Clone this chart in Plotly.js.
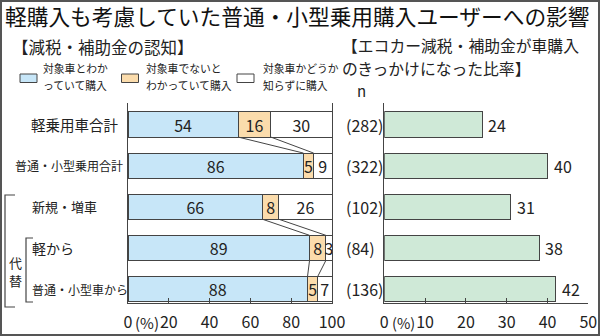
<!DOCTYPE html>
<html><head><meta charset="utf-8">
<script src="https://cdn.plot.ly/plotly-3.0.1.min.js"></script>
<style>html,body{margin:0;padding:0;background:#fff;}</style>
</head><body>
<div id="chart" style="width:600px;height:336px;"></div>
<script>
// ---- data ----
const categories = ['軽乗用車合計', '普通・小型乗用合計', '新規・増車', '軽から', '普通・小型車から'];
const knewTarget = [54, 86, 66, 89, 88];
const knewNotTarget = [16, 5, 8, 8, 5];
const didNotKnow = [30, 9, 26, 3, 7];
const ecoTrigger = [24, 40, 31, 38, 42];
const nCounts = ['(282)', '(322)', '(102)', '(84)', '(136)'];
const seriesLines = [['対象車とわか', 'っていて購入'], ['対象車でないと', 'わかっていて購入'], ['対象車かどうか', '知らずに購入']];
const leftTicks = [0, 20, 40, 60, 80, 100];
const rightTicks = [0, 10, 20, 30, 40, 50];
const linkPairs = [[0, 1], [2, 3], [3, 4]];
const titleText = '軽購入も考慮していた普通・小型乗用購入ユーザーへの影響';
const leftSub = '【減税・補助金の認知】';
const rightSub = ['【エコカー減税・補助金が車購入', 'のきっかけになった比率】'];
const groupLabel = ['代', '替'];

// ---- helpers ----
const W = 600, H = 336;
const X = p => p / W;
const Y = p => 1 - p / H;
const idx = categories.map((_, i) => i);
const FONT = 'Liberation Sans Narrow, Noto Sans CJK JP, sans-serif';
const JP = 'Noto Sans CJK JP, sans-serif';
const INK = '#222';
const EDGE = '#444';
const colors = ['#c7e6f8', '#fbdcac', '#ffffff'];
const green = '#cfe9d7';
const BW = 0.61;

const seriesVals = [knewTarget, knewNotTarget, didNotKnow];
const traces = seriesVals.map((vals, k) => ({
  type: 'bar', orientation: 'h', x: vals, y: idx, xaxis: 'x', yaxis: 'y',
  width: BW, name: seriesLines[k].join(''),
  marker: {color: colors[k], line: {color: EDGE, width: 1}},
  text: vals.map(String), textposition: 'inside', insidetextanchor: 'middle',
  textangle: 0, constraintext: 'none', cliponaxis: false,
  textfont: {family: FONT, size: 16, color: INK},
  hoverinfo: 'skip', showlegend: false
}));

// connector lines between segment boundaries
const b1 = knewTarget;
const b2 = knewTarget.map((v, i) => v + knewNotTarget[i]);
const lx = [], ly = [];
linkPairs.forEach(([a, b]) => {
  [b1, b2].forEach(bd => {
    lx.push(bd[a], bd[b], null);
    ly.push(a + BW / 2, b - BW / 2, null);
  });
});
traces.push({type: 'scatter', mode: 'lines', x: lx, y: ly, xaxis: 'x', yaxis: 'y',
  line: {color: EDGE, width: 1}, hoverinfo: 'skip', showlegend: false});

traces.push({
  type: 'bar', orientation: 'h', x: ecoTrigger, y: idx, xaxis: 'x2', yaxis: 'y2',
  width: BW, marker: {color: green, line: {color: EDGE, width: 1}},
  hoverinfo: 'skip', showlegend: false
});

const yDomain = [Y(302.7), Y(103)];
const yRange = [4.333, -0.523];
const axisCommon = {showgrid: false, zeroline: false, showline: true, linecolor: EDGE, linewidth: 1,
  ticks: 'inside', ticklen: 5, tickcolor: EDGE, tickwidth: 1, ticklabelstandoff: 5,
  tickfont: {family: FONT, size: 16, color: INK}, fixedrange: true};

const annotations = [];
const shapes = [];

// subtitles
annotations.push({xref: 'paper', yref: 'paper', x: X(10), y: Y(47), xanchor: 'left', yanchor: 'middle',
  text: leftSub, showarrow: false, font: {family: JP, size: 16.5, color: INK}});
rightSub.forEach((t, i) => annotations.push({xref: 'paper', yref: 'paper', x: X(340), y: Y(46 + 23 * i),
  xanchor: 'left', yanchor: 'middle', text: t, showarrow: false, font: {family: JP, size: 15.8, color: INK}}));
annotations.push({xref: 'paper', yref: 'paper', x: X(361), y: Y(91), xanchor: 'center', yanchor: 'middle',
  text: 'n', showarrow: false, font: {family: FONT, size: 15, color: INK}});

// legend
const legX = [20, 121.5, 237];
const legTX = [41, 144, 261];
seriesLines.forEach((lines, k) => {
  shapes.push({type: 'rect', xref: 'paper', yref: 'paper', x0: X(legX[k]), x1: X(legX[k] + 17),
    y0: Y(82.5), y1: Y(74), fillcolor: colors[k], line: {color: EDGE, width: 1}});
  lines.forEach((t, j) => annotations.push({xref: 'paper', yref: 'paper', x: X(legTX[k]), y: Y(68 + 16.5 * j),
    xanchor: 'left', yanchor: 'middle', text: t, showarrow: false, font: {family: JP, size: 10.8, color: INK}}));
});

// category labels
const labelSizes = [14.5, 12, 13, 14, 12];
const labelX = [29, 125, 30, 30, 30];
const labelAnchor = ['left', 'right', 'left', 'left', 'left'];
categories.forEach((c, i) => annotations.push({xref: 'paper', yref: 'y', x: X(labelX[i]), y: i,
  xanchor: labelAnchor[i], yanchor: 'middle', text: c, showarrow: false,
  font: {family: JP, size: labelSizes[i], color: INK}}));

// n counts
nCounts.forEach((t, i) => annotations.push({xref: 'paper', yref: 'y2', x: X(344), y: i,
  xanchor: 'left', yanchor: 'middle', text: t, showarrow: false,
  font: {family: FONT, size: 16, color: INK}}));

// right value labels
ecoTrigger.forEach((v, i) => annotations.push({xref: 'x2', yref: 'y2', x: v, y: i, xanchor: 'left',
  yanchor: 'middle', xshift: 4, text: String(v), showarrow: false,
  font: {family: FONT, size: 16, color: INK}}));

// (%) markers
annotations.push({xref: 'x', yref: 'paper', x: 0, y: Y(322), xanchor: 'left', yanchor: 'middle', xshift: 5,
  text: '(%)', showarrow: false, font: {family: JP, size: 15, color: INK}});
annotations.push({xref: 'x2', yref: 'paper', x: 0, y: Y(322), xanchor: 'left', yanchor: 'middle', xshift: 6,
  text: '(%)', showarrow: false, font: {family: JP, size: 14.5, color: INK}});

// brackets and 代替
const pathOf = pts => 'M' + pts.map(p => X(p[0]) + ',' + Y(p[1])).join(' L');
shapes.push({type: 'path', xref: 'paper', yref: 'paper', path: pathOf([[15, 195], [5, 195], [5, 307], [15, 307]]),
  line: {color: EDGE, width: 1.2}});
shapes.push({type: 'path', xref: 'paper', yref: 'paper', path: pathOf([[33, 238], [26, 238], [26, 302], [33, 302]]),
  line: {color: EDGE, width: 1.2}});
groupLabel.forEach((t, i) => annotations.push({xref: 'paper', yref: 'paper', x: X(15), y: Y(262 + 18 * i),
  xanchor: 'center', yanchor: 'middle', text: t, showarrow: false, font: {family: JP, size: 13, color: INK}}));

// outer frame
shapes.push({type: 'rect', xref: 'paper', yref: 'paper', x0: X(1), x1: X(599), y0: Y(335), y1: Y(1),
  line: {color: '#555', width: 2}, fillcolor: 'rgba(0,0,0,0)'});

const layout = {
  width: W, height: H, margin: {l: 0, r: 0, t: 0, b: 0, pad: 0},
  paper_bgcolor: '#fff', plot_bgcolor: 'rgba(0,0,0,0)',
  barmode: 'stack', bargap: 0, showlegend: false,
  title: {text: titleText, x: X(5), xanchor: 'left', xref: 'paper', y: Y(17), yref: 'paper', yanchor: 'middle',
    font: {family: JP, size: 21.7, color: '#111'}},
  xaxis: Object.assign({}, axisCommon, {domain: [X(128), X(332)], range: [0, 100], anchor: 'y',
    tickmode: 'array', tickvals: leftTicks, ticktext: leftTicks.map(String)}),
  yaxis: {domain: yDomain, range: yRange, anchor: 'x', showline: true, mirror: true, linecolor: EDGE,
    linewidth: 1, showgrid: false, zeroline: false, showticklabels: false, ticks: '', fixedrange: true},
  xaxis2: Object.assign({}, axisCommon, {domain: [X(384.3), X(588.3)], range: [0, 50], anchor: 'y2',
    tickmode: 'array', tickvals: rightTicks, ticktext: rightTicks.map(String)}),
  yaxis2: {domain: yDomain, range: yRange, anchor: 'x2', showline: true, linecolor: EDGE,
    linewidth: 1, showgrid: false, zeroline: false, showticklabels: false, ticks: '', fixedrange: true},
  annotations: annotations, shapes: shapes
};

Plotly.newPlot('chart', traces, layout, {displayModeBar: false, staticPlot: true});
</script>
</body></html>
